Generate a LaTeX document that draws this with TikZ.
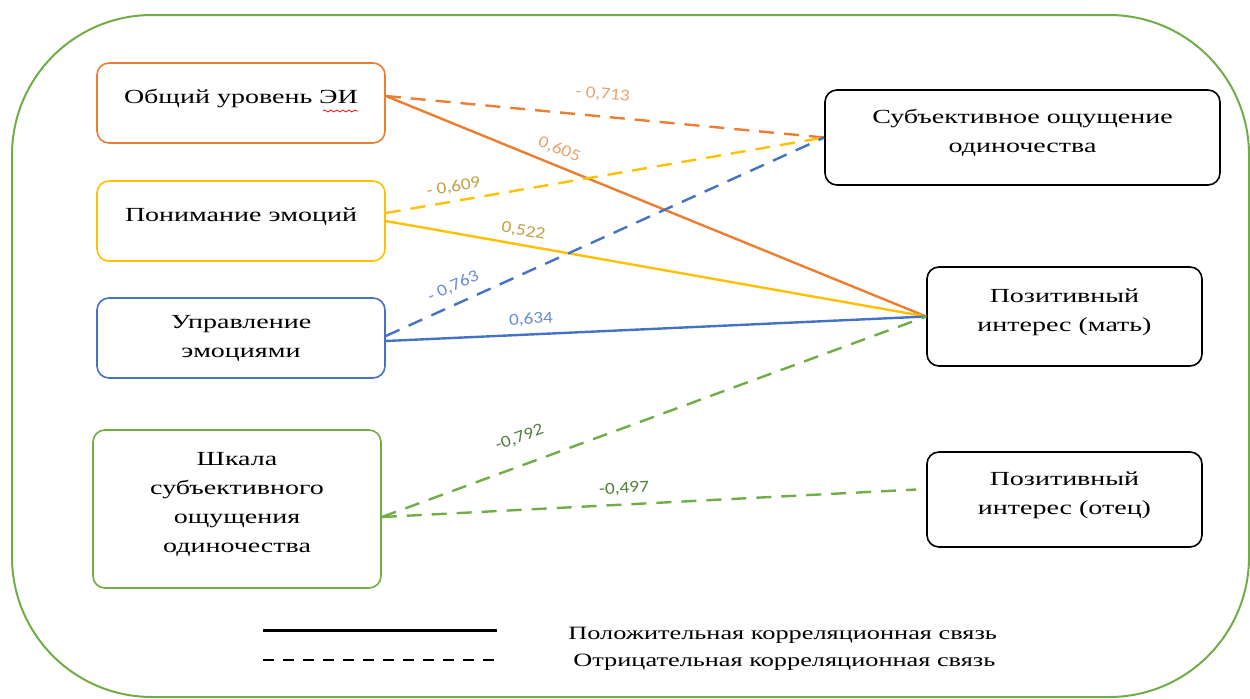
\documentclass[tikz,border=0pt]{standalone}
\usepackage{fontspec}
\setmainfont{Liberation Serif}[FakeStretch=1.4]
\newfontfamily\coeffont{Carlito}[FakeStretch=1.15]
\usepackage{xcolor}
\usetikzlibrary{decorations.pathmorphing}
\definecolor{eiorange}{HTML}{ED7D31}
\definecolor{eiyellow}{HTML}{FFC000}
\definecolor{eiblue}{HTML}{4472C4}
\definecolor{eigreen}{HTML}{70AD47}
\definecolor{txtorange}{HTML}{F0A070}
\definecolor{txtyellow}{HTML}{BFA040}
\definecolor{txtblue}{HTML}{6A8CD0}
\definecolor{txtgreen}{HTML}{4F7F3A}

\begin{document}
\begin{tikzpicture}[x=0.5pt,y=-0.5pt,
  box/.style={draw, rounded corners=6pt, line width=0.8pt, align=center,
    font=\fontsize{10}{14.5}\selectfont},
  link/.style={line width=1.2pt},
  neg/.style={dash pattern=on 7.5pt off 5pt},
  coef/.style={sloped, inner sep=0pt, font=\coeffont\fontsize{8.4}{9}\selectfont}]
  \useasboundingbox (0,0) rectangle (1250,698);
  \draw[eigreen, line width=1pt, rounded corners=70pt] (12,15) rectangle (1249,697);

  \node[box, eiorange, text=black, minimum width=144pt, minimum height=40pt] (ei) at (241,103) {Общий уровень ЭИ\\[-8pt]\mbox{}};
  \node[box, eiyellow, text=black, minimum width=144pt, minimum height=40pt] (underst) at (241,221) {Понимание эмоций\\[-8pt]\mbox{}};
  \node[box, eiblue, text=black, minimum width=144pt, minimum height=40pt] (manage) at (241,338) {Управление\\эмоциями};
  \node[box, eigreen, text=black, minimum width=144pt, minimum height=79pt] (scale) at (237,509) {Шкала\\субъективного\\ощущения\\одиночества\\[-8pt]\mbox{}};
  \node[box, minimum width=197.5pt, minimum height=47.5pt] (lonely) at (1022.5,137.5) {Субъективное ощущение\\одиночества\\[-8pt]\mbox{}};
  \node[box, minimum width=137.5pt, minimum height=49.5pt] (mother) at (1064.5,316.5) {Позитивный\\интерес (мать)\\[-8pt]\mbox{}};
  \node[box, minimum width=137.5pt, minimum height=47.5pt] (father) at (1064.5,499.5) {Позитивный\\интерес (отец)\\[-8pt]\mbox{}};
  \draw[red, line width=0.4pt, decorate, decoration={snake, amplitude=0.5pt, segment length=3pt}] (323,111) -- (358,111);

  \draw[link, neg, eiorange] ([yshift=3.5pt]ei.east) -- (lonely.west) node[coef, pos=0.49, above=7pt, txtorange] {- 0,713};
  \draw[link, eiorange] ([yshift=3.5pt]ei.east) -- (mother.west) node[coef, pos=0.31, above=4pt, txtorange] {0,605};
  \draw[link, neg, eiyellow] ([yshift=4pt]underst.east) -- (lonely.west) node[coef, pos=0.16, above=3pt, txtyellow] {- 0,609};
  \draw[link, eiyellow] (underst.east) -- (mother.west) node[coef, pos=0.25, above=3pt, txtyellow] {0,522};
  \draw[link, neg, eiblue] ([yshift=1pt]manage.east) -- (lonely.west) node[coef, pos=0.17, above=4.5pt, txtblue] {- 0,763};
  \draw[link, eiblue] ([yshift=-1.5pt]manage.east) -- (mother.west) node[coef, pos=0.27, above=3.5pt, txtblue] {0,634};
  \draw[link, neg, eigreen] ([yshift=-4pt]scale.east) -- (mother.west) node[coef, pos=0.27, above=9.5pt, txtgreen] {-0,792};
  \draw[link, neg, eigreen] ([yshift=-4pt]scale.east) -- ([xshift=-5pt,yshift=5pt]father.west) node[coef, pos=0.455, above=4pt, txtgreen] {-0,497};

  \coordinate (posa) at (263,630);
  \coordinate (posb) at (497,630);
  \coordinate (nega) at (263,660);
  \coordinate (negb) at (497,660);
  \draw[line width=1.5pt] (posa) -- (posb);
  \draw[line width=1.2pt, dash pattern=on 5.5pt off 4.5pt] (nega) -- (negb);
  \node[anchor=west, inner sep=0pt, font=\fontsize{9.4}{11}\selectfont] (legpos) at (568,635) {Положительная корреляционная связь};
  \node[anchor=west, inner sep=0pt, font=\fontsize{9.4}{11}\selectfont] (legneg) at (573,662) {Отрицательная корреляционная связь};
\end{tikzpicture}
\end{document}
